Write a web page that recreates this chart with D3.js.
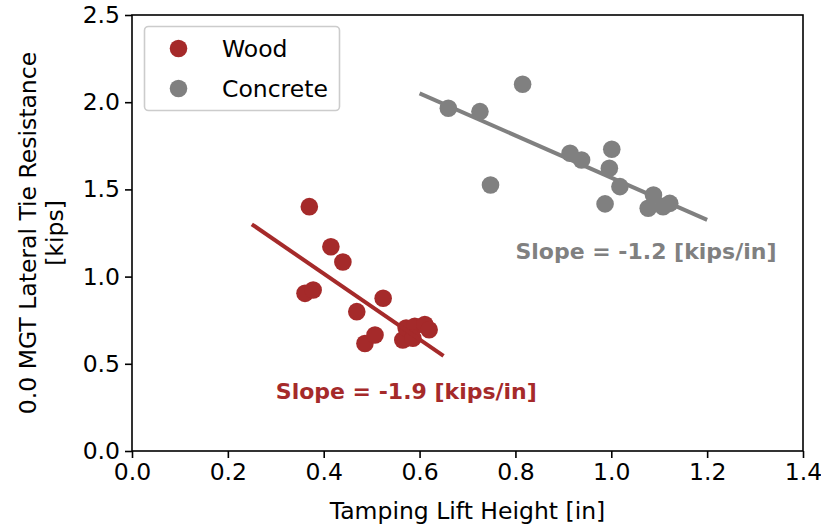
<!DOCTYPE html>
<html><head><meta charset="utf-8">
<script src="https://cdn.jsdelivr.net/npm/d3@7"></script>
<style>body{margin:0;background:#fff}svg{display:block}text{font-family:"DejaVu Sans",sans-serif}</style>
</head><body><svg id="c" width="821" height="527"></svg>
<script>
const woodX = [0.370,0.415,0.440,0.361,0.378,0.524,0.469,0.486,0.507,0.565,0.572,0.590,0.611,0.586,0.620];
const woodY = [1.401,1.171,1.084,0.904,0.923,0.876,0.799,0.616,0.665,0.637,0.705,0.715,0.725,0.647,0.695];
const concreteX = [0.660,0.726,0.815,0.748,0.914,0.938,1.001,0.996,1.018,0.987,1.088,1.077,1.108,1.122];
const concreteY = [1.965,1.946,2.103,1.525,1.707,1.669,1.730,1.621,1.516,1.417,1.468,1.392,1.401,1.420];
const woodLineX = [0.25,0.65], woodLineY = [1.300,0.545];
const concreteLineX = [0.60,1.20], concreteLineY = [2.051,1.325];
const xTicks = [0,0.2,0.4,0.6,0.8,1.0,1.2,1.4];
const yTicks = [0,0.5,1.0,1.5,2.0,2.5];
const seriesNames = ["Wood","Concrete"];
const slopeLabels = [{t:"Slope = -1.9 [kips/in]",x:0.3,y:0.3},{t:"Slope = -1.2 [kips/in]",x:0.8,y:1.1}];
const colors = ["#a52a2a","#808080"];

const FS = 23.5;
const svg = d3.select("#c");
const L=132,R=803,T=15,B=451;
const x = d3.scaleLinear().domain([0,1.4]).range([L,R]);
const y = d3.scaleLinear().domain([0,2.5]).range([B,T]);

const xa = svg.append("g").attr("transform",`translate(0,${B})`)
  .call(d3.axisBottom(x).tickValues(xTicks).tickFormat(d3.format(".1f")).tickSize(7).tickPadding(5));
const ya = svg.append("g").attr("transform",`translate(${L},0)`)
  .call(d3.axisLeft(y).tickValues(yTicks).tickFormat(d3.format(".1f")).tickSize(7).tickPadding(5));
[xa,ya].forEach(g=>{
  g.selectAll("text").attr("font-size",FS).attr("fill","#000").attr("font-family","DejaVu Sans");
  g.selectAll("line").attr("stroke","#000").attr("stroke-width",1.6);
  g.select(".domain").remove();
});
svg.append("rect").attr("x",L).attr("y",T).attr("width",R-L).attr("height",B-T)
  .attr("fill","none").attr("stroke","#000").attr("stroke-width",1.6);

const series = [
  {x:woodX,y:woodY,lx:woodLineX,ly:woodLineY,c:colors[0]},
  {x:concreteX,y:concreteY,lx:concreteLineX,ly:concreteLineY,c:colors[1]}
];
series.forEach(s=>{
  svg.append("g").selectAll("circle").data(s.x.map((v,i)=>[v,s.y[i]])).join("circle")
    .attr("cx",d=>x(d[0])).attr("cy",d=>y(d[1])).attr("r",8.8).attr("fill",s.c);
});
series.forEach(s=>{
  svg.append("line").attr("x1",x(s.lx[0])).attr("y1",y(s.ly[0])).attr("x2",x(s.lx[1])).attr("y2",y(s.ly[1]))
    .attr("stroke",s.c).attr("stroke-width",4);
});
slopeLabels.forEach((s,i)=>{
  svg.append("text").attr("x",x(s.x)).attr("y",y(s.y)).attr("fill",colors[i])
    .attr("font-size",22).attr("font-weight","bold").text(s.t);
});

svg.append("text").attr("x",(L+R)/2).attr("y",519).attr("text-anchor","middle")
  .attr("font-size",FS).text("Tamping Lift Height [in]");
const yl = svg.append("text").attr("transform",`translate(36,${(T+B)/2}) rotate(-90)`).attr("text-anchor","middle").attr("font-size",FS);
yl.append("tspan").attr("x",0).attr("dy",0).text("0.0 MGT Lateral Tie Resistance");
yl.append("tspan").attr("x",0).attr("dy",27).text("[kips]");

const lg = svg.append("g");
lg.append("rect").attr("x",144.5).attr("y",26.5).attr("width",195).attr("height",84).attr("rx",4)
  .attr("fill","#fff").attr("fill-opacity",0.8).attr("stroke","#cccccc").attr("stroke-width",1.6);
seriesNames.forEach((n,i)=>{
  lg.append("circle").attr("cx",178.5).attr("cy",48.5+i*40).attr("r",8.8).attr("fill",colors[i]);
  lg.append("text").attr("x",222).attr("y",48.5+i*40).attr("dy","0.35em").attr("font-size",FS).text(n);
});
</script></body></html>
